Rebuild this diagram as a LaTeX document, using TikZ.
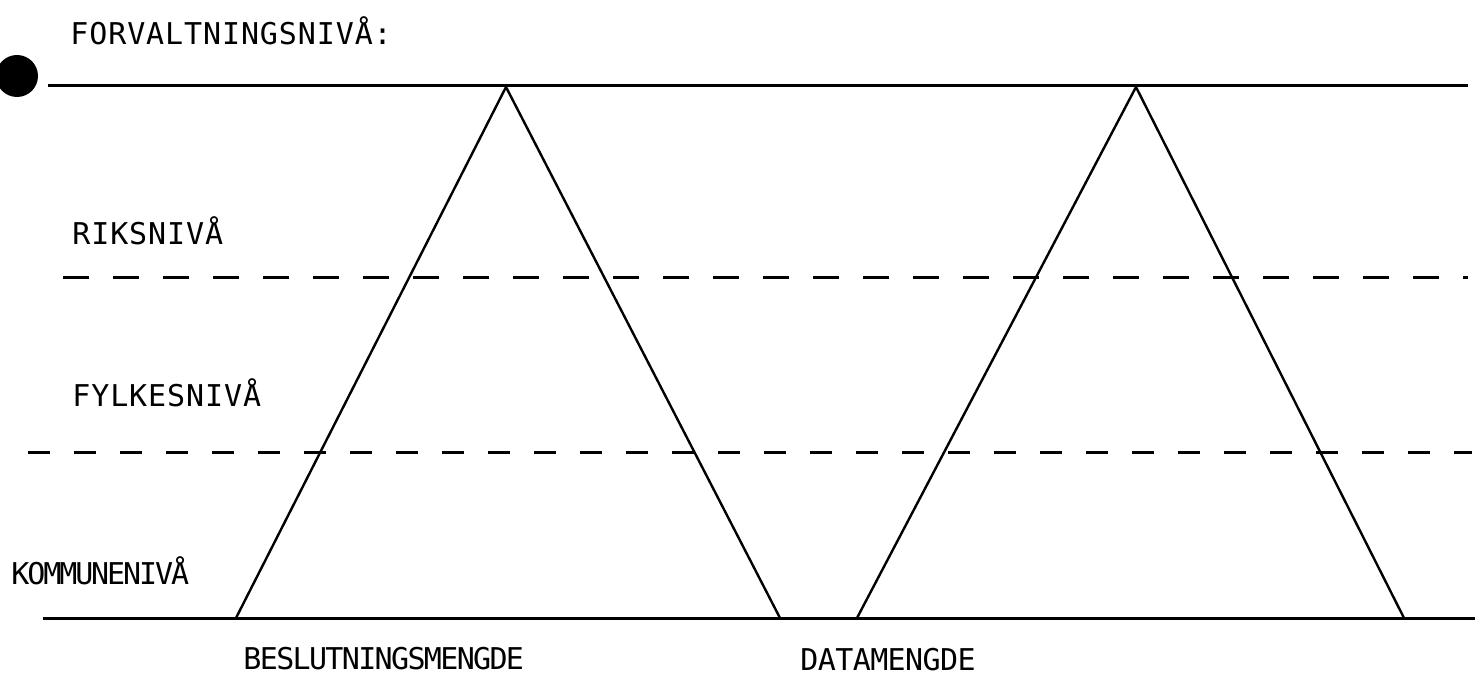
\documentclass[tikz,border=0pt]{standalone}
\usepackage{fontspec}
\newfontfamily\typewide{DejaVu Sans Mono}[LetterSpace=3]
\newfontfamily\typeplain{DejaVu Sans Mono}[LetterSpace=-2]
\newfontfamily\typetight{DejaVu Sans Mono}[LetterSpace=-5.5]
\newfontfamily\typenarrow{DejaVu Sans Mono}[LetterSpace=-7]

\tikzset{
  level/.style={anchor=base west,inner sep=0pt},
  solidline/.style={line width=1.5pt},
  dashline/.style={line width=1.5pt,dash pattern=on 13pt off 12pt},
  side/.style={line width=1.2pt}
}

\begin{document}
\begin{tikzpicture}[x=0.5pt,y=-0.5pt]
  \useasboundingbox (0,0) rectangle (1480,679);

  % Headings for the levels.
  \node[level,font=\typewide\fontsize{15}{17}\selectfont] (forv) at (70,45) {FORVALTNINGSNIVÅ:};
  \node[level,font=\typewide\fontsize{15}{17}\selectfont] (riks) at (72,245) {RIKSNIVÅ};
  \node[level,font=\typewide\fontsize{15}{17}\selectfont] (fylke) at (72,407) {FYLKESNIVÅ};
  \node[level,font=\typenarrow\fontsize{15}{17}\selectfont] (kommune) at (11,585) {KOMMUNENIVÅ};

  % Marker dot on the left edge.
  \node[circle,fill,inner sep=0pt,minimum size=21pt] (dot) at (17,76) {};

  % Solid top and bottom levels.
  \coordinate (topL) at (48,86);   \coordinate (topR) at (1468,86);
  \coordinate (botL) at (43,618);  \coordinate (botR) at (1475,618);
  \path[draw,solidline] (topL) -- (topR);
  \path[draw,solidline] (botL) -- (botR);

  % Dashed borders between the levels.
  \coordinate (riksL) at (63,278);  \coordinate (riksR) at (1468,278);
  \coordinate (fylkeL) at (28,453); \coordinate (fylkeR) at (1472,453);
  \path[draw,dashline] (riksL) -- (riksR);
  \path[draw,dashline,dash pattern=on 11pt off 12pt] (fylkeL) -- (fylkeR);

  % Two triangles standing on the bottom level.
  \coordinate (besTop) at (506,87);  \coordinate (besL) at (236,618); \coordinate (besR) at (780,618);
  \coordinate (datTop) at (1136,87); \coordinate (datL) at (857,618); \coordinate (datR) at (1404,618);
  \path[draw,side,line join=miter] (besL) -- (besTop) -- (besR);
  \path[draw,side,line join=miter] (datL) -- (datTop) -- (datR);

  % Names under the triangles.
  \node[level,font=\typetight\fontsize{15}{17}\selectfont] (beslutning) at (243,669) {BESLUTNINGSMENGDE};
  \node[level,font=\typeplain\fontsize{15}{17}\selectfont] (data) at (800,670) {DATAMENGDE};
\end{tikzpicture}
\end{document}
